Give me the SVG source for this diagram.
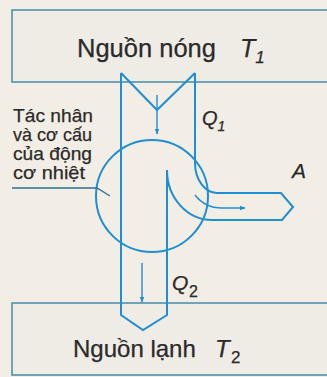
<svg xmlns="http://www.w3.org/2000/svg" width="327" height="377" viewBox="0 0 327 377">
<defs>
<style>
.box{fill:#efece6;stroke:#4f93ad;stroke-width:1.6}
.ln{fill:none;stroke:#1d8fd2;stroke-width:2;stroke-linejoin:miter}
.thin{fill:none;stroke:#1d8fd2;stroke-width:1.4}
.lead{fill:none;stroke:#2b6f8f;stroke-width:1.3}
.t{font-family:"Liberation Sans",Arial,sans-serif;fill:#2a2a2a;stroke:#2a2a2a;stroke-width:0.25}
.it{font-style:italic}
</style>
<marker id="ah" viewBox="0 0 10 10" refX="9" refY="5" markerWidth="6" markerHeight="6" orient="auto" markerUnits="userSpaceOnUse">
<path d="M0,1 L10,5 L0,9 Z" fill="#1d8fd2"/>
</marker>
</defs>
<rect width="327" height="377" fill="#f3eee5"/>
<g id="hot">
<rect class="box" x="12" y="10" width="330" height="72"/>
<text class="t" x="77" y="57" font-size="25.5">Nguồn nóng</text>
<text class="t it" x="240" y="57" font-size="25">T<tspan font-size="17" dy="6">1</tspan></text>
</g>
<g id="cold">
<rect class="box" x="12" y="303" width="330" height="72"/>
<text class="t" x="73" y="357" font-size="24">Nguồn lạnh</text>
<text class="t it" x="215" y="357" font-size="24">T</text>
<text class="t" x="231" y="363" font-size="17">2</text>
</g>
<g id="engine">
<circle class="ln" cx="152" cy="196" r="56"/>
<g font-size="19">
<text class="t" x="13" y="122" textLength="80" lengthAdjust="spacingAndGlyphs">Tác nhân</text>
<text class="t" x="13" y="141" textLength="79" lengthAdjust="spacingAndGlyphs">và cơ cấu</text>
<text class="t" x="13" y="160" textLength="79" lengthAdjust="spacingAndGlyphs">của động</text>
<text class="t" x="13" y="179" textLength="72" lengthAdjust="spacingAndGlyphs">cơ nhiệt</text>
</g>
<path class="lead" d="M12,188 H97 L110,196"/>
</g>
<g id="work">
<text class="t it" x="292" y="178" font-size="21">A</text>
</g>
<g id="connectors">
<path class="ln" d="M121,73 L157,110 L195,73"/>
<path class="ln" d="M121,73 V315 L143,330 L167,315 V170"/>
<path class="ln" d="M195,73 V163 A22 30 0 0 0 217 193 H281 L293,207 L282,220 H212 A45 50 0 0 1 167 170"/>
<path class="thin" d="M157,95 V134" marker-end="url(#ah)"/>
<path class="thin" d="M142,263 V302" marker-end="url(#ah)"/>
<path class="thin" d="M195,195 Q205,208 222,208 H245" marker-end="url(#ah)"/>
<text class="t it" x="202" y="125" font-size="20">Q<tspan font-size="14" dy="6">1</tspan></text>
<text class="t it" x="172" y="290" font-size="21">Q</text>
<text class="t" x="189" y="297" font-size="16">2</text>
</g>
</svg>
